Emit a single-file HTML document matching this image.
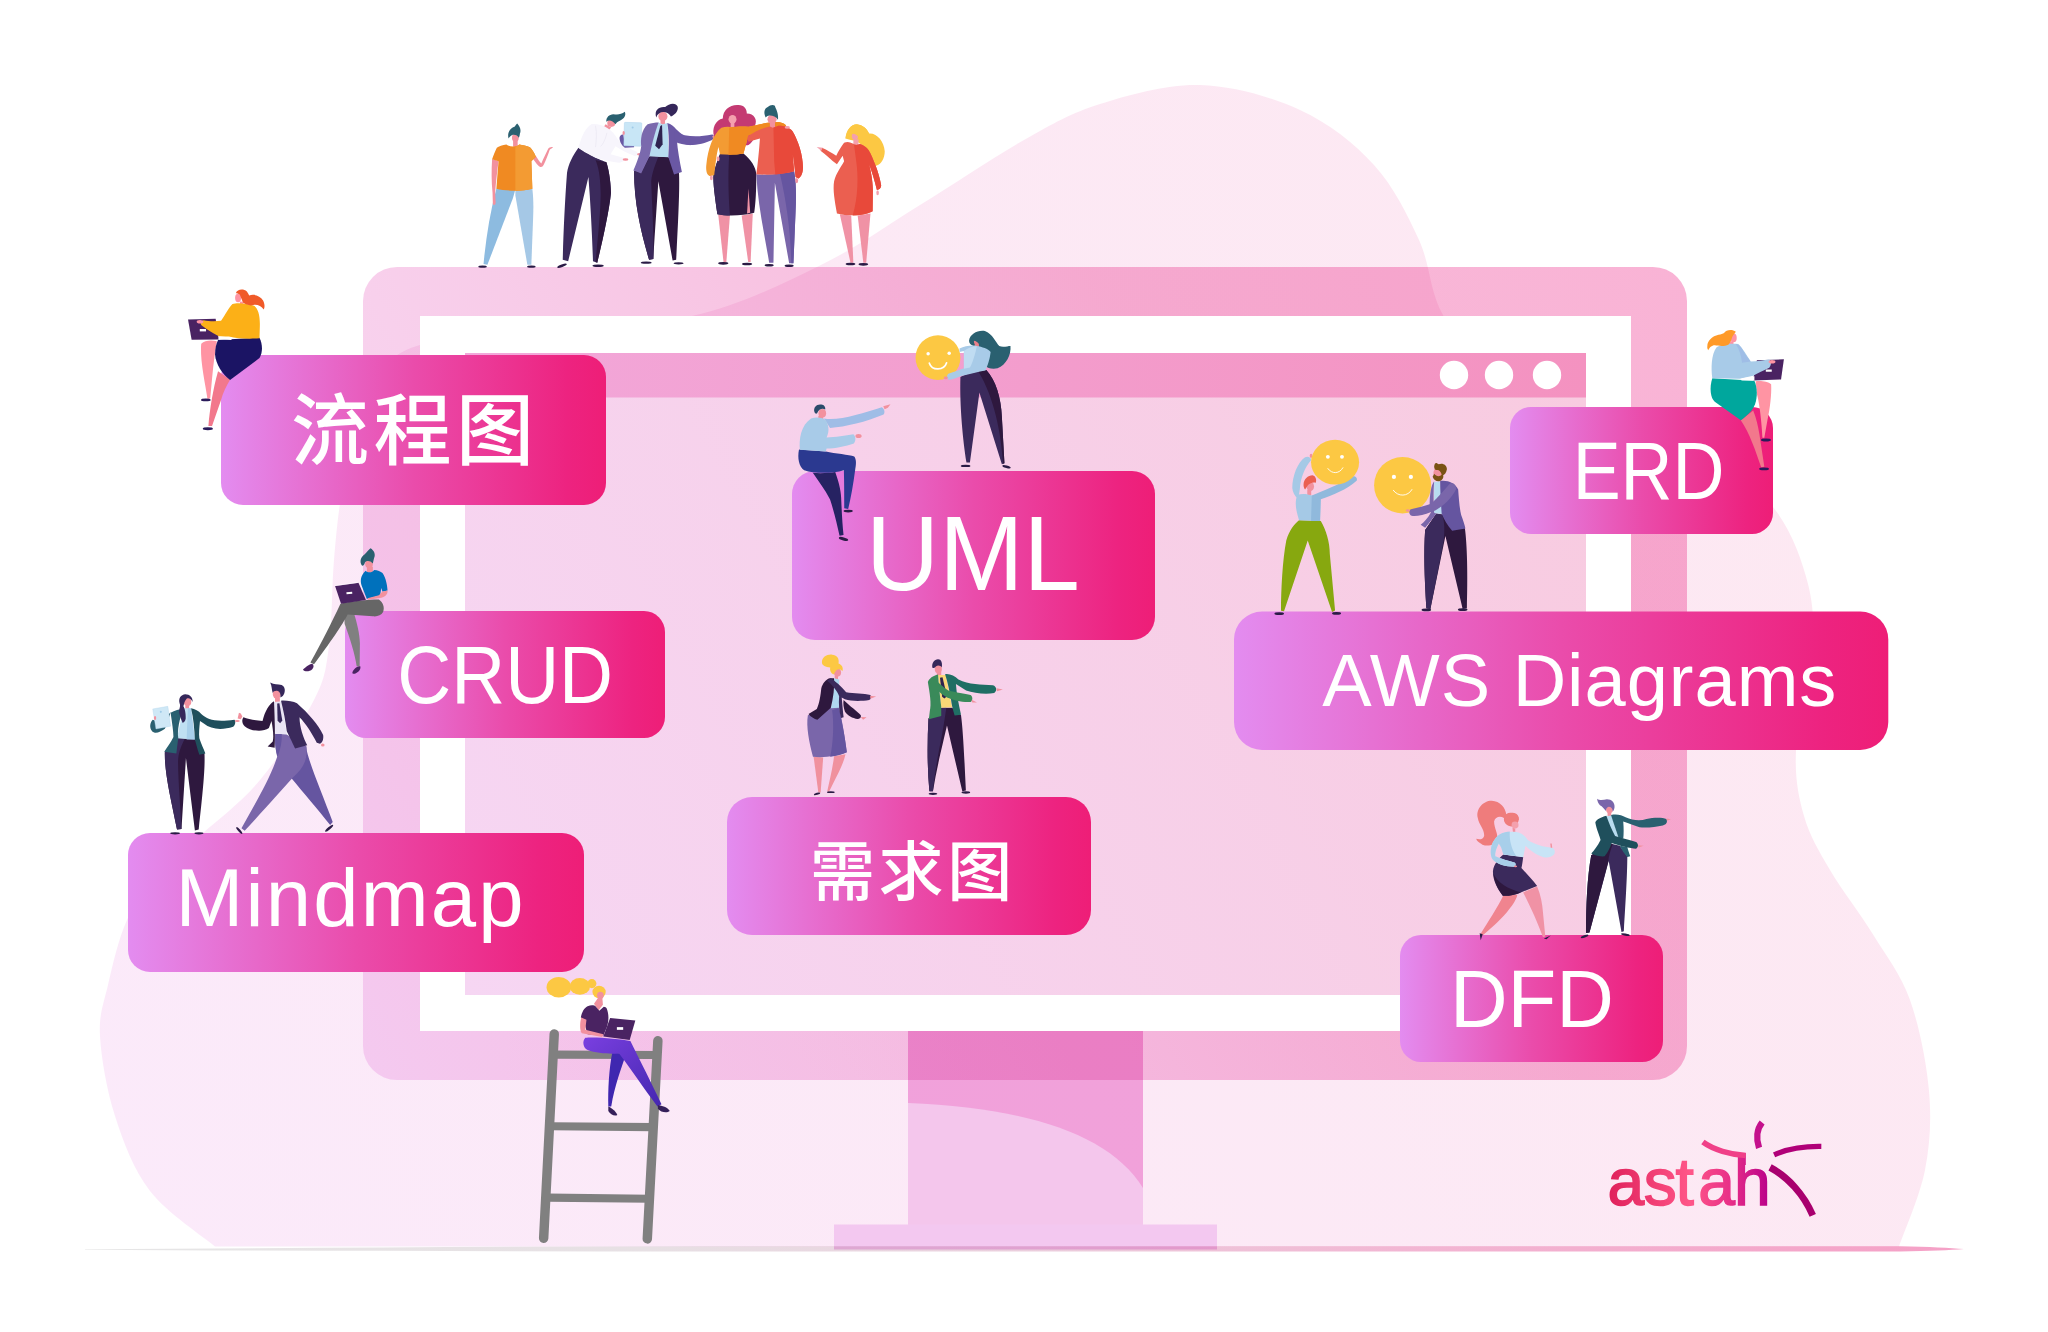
<!DOCTYPE html>
<html lang="zh"><head><meta charset="utf-8"><title>astah diagrams</title>
<style>
html,body{margin:0;padding:0;background:#fff;overflow:hidden}
svg{display:block}
text{font-family:"Liberation Sans","Noto Sans CJK SC",sans-serif;fill:#fff}
</style></head><body>
<svg width="2048" height="1332" viewBox="0 0 2048 1332">
<defs>
<linearGradient id="lg" x1="0" y1="0" x2="1" y2="0">
<stop offset="0" stop-color="#e38cf0"/><stop offset="0.5" stop-color="#ea4cab"/><stop offset="0.9" stop-color="#ed2380"/><stop offset="1" stop-color="#ee1e77"/>
</linearGradient>
<linearGradient id="fr" gradientUnits="userSpaceOnUse" x1="363" y1="1080" x2="1687" y2="267">
<stop offset="0" stop-color="#f8dcf6"/><stop offset="0.27" stop-color="#f8d0ec"/><stop offset="0.45" stop-color="#f8c6e4"/><stop offset="0.67" stop-color="#f8b9d9"/><stop offset="1" stop-color="#f9b3d5"/>
</linearGradient>
<linearGradient id="sc" gradientUnits="userSpaceOnUse" x1="465" y1="995" x2="1586" y2="397">
<stop offset="0" stop-color="#f6d6f3"/><stop offset="1" stop-color="#f8cbe0"/>
</linearGradient>
<linearGradient id="tb" gradientUnits="userSpaceOnUse" x1="465" y1="375" x2="1586" y2="375">
<stop offset="0" stop-color="#f2a8da"/><stop offset="1" stop-color="#f492c0"/>
</linearGradient>
<linearGradient id="gl" gradientUnits="userSpaceOnUse" x1="85" y1="0" x2="1965" y2="0">
<stop offset="0" stop-color="#e6e6e6"/><stop offset="0.3" stop-color="#e7e0e4"/><stop offset="0.5" stop-color="#ebcedd"/><stop offset="0.7" stop-color="#f2b6d3"/><stop offset="1" stop-color="#f5a0c6"/>
</linearGradient>
<linearGradient id="bl" gradientUnits="userSpaceOnUse" x1="100" y1="1200" x2="1900" y2="200">
<stop offset="0" stop-color="#fbeafa"/><stop offset="1" stop-color="#fde8f1"/>
</linearGradient>
</defs>
<rect width="2048" height="1332" fill="#fff"/>
<path d="M215.0,1246.5 C204.2,1237.2 166.7,1212.8 150.0,1191.0 C133.3,1169.2 123.3,1141.8 115.0,1116.0 C106.7,1090.2 101.2,1057.8 100.0,1036.0 C98.8,1014.2 103.5,1004.3 108.0,985.0 C112.5,965.7 118.3,939.2 127.0,920.0 C135.7,900.8 147.3,884.5 160.0,870.0 C172.7,855.5 186.3,848.0 203.0,833.0 C219.7,818.0 241.5,802.2 260.0,780.0 C278.5,757.8 302.5,722.3 314.0,700.0 C325.5,677.7 325.7,669.3 329.0,646.0 C332.3,622.7 331.8,586.0 334.0,560.0 C336.2,534.0 338.0,515.0 342.0,490.0 C346.0,465.0 352.2,429.2 358.0,410.0 C363.8,390.8 366.7,385.8 377.0,375.0 C387.3,364.2 392.8,352.8 420.0,345.0 C447.2,337.2 494.7,332.8 540.0,328.0 C585.3,323.2 645.5,326.3 692.0,316.0 C738.5,305.7 781.0,284.5 819.0,266.0 C857.0,247.5 885.8,226.0 920.0,205.0 C954.2,184.0 994.0,156.8 1024.0,140.0 C1054.0,123.2 1070.7,113.2 1100.0,104.0 C1129.3,94.8 1166.7,84.0 1200.0,85.0 C1233.3,86.0 1271.0,96.7 1300.0,110.0 C1329.0,123.3 1354.2,143.3 1374.0,165.0 C1393.8,186.7 1407.5,215.0 1419.0,240.0 C1430.5,265.0 1429.5,291.7 1443.0,315.0 C1456.5,338.3 1470.5,362.5 1500.0,380.0 C1529.5,397.5 1586.7,408.3 1620.0,420.0 C1653.3,431.7 1674.5,435.5 1700.0,450.0 C1725.5,464.5 1755.0,484.7 1773.0,507.0 C1791.0,529.3 1801.5,558.5 1808.0,584.0 C1814.5,609.5 1814.0,632.2 1812.0,660.0 C1810.0,687.8 1797.3,725.0 1796.0,751.0 C1794.7,777.0 1798.3,796.2 1804.0,816.0 C1809.7,835.8 1818.3,850.0 1830.0,870.0 C1841.7,890.0 1860.7,914.3 1874.0,936.0 C1887.3,957.7 1900.8,974.2 1910.0,1000.0 C1919.2,1025.8 1926.5,1062.7 1929.0,1091.0 C1931.5,1119.3 1930.0,1144.1 1925.0,1170.0 C1920.0,1195.9 1903.3,1233.8 1899.0,1246.5Z" fill="url(#bl)"/>
<g style="mix-blend-mode:multiply">
<rect x="363" y="267" width="1324" height="813" rx="34" fill="url(#fr)"/>
</g>
<g style="mix-blend-mode:multiply">
<rect x="908" y="1031" width="235" height="194" fill="#f4b0e2"/>
</g>
<path d="M908,1103 C1030,1108 1110,1135 1143,1188 L1143,1225 L908,1225Z" fill="#f4c6ec"/>
<rect x="834" y="1224.5" width="383" height="25" fill="#f3c8f0"/>
<rect x="420" y="316" width="1211" height="715" fill="#fff"/>
<rect x="465" y="353" width="1121" height="642" fill="url(#sc)"/>
<rect x="465" y="353" width="1121" height="44.5" fill="url(#tb)"/>
<circle cx="1454" cy="375" r="14.2" fill="#fff"/><circle cx="1499" cy="375" r="14.2" fill="#fff"/><circle cx="1547" cy="375" r="14.2" fill="#fff"/>
<path d="M85,1249.4 C300,1248 500,1246.3 700,1246.2 L1900,1246.2 C1930,1246.5 1950,1248 1964,1249 C1950,1250 1930,1251.3 1900,1251.4 L700,1251.5 C500,1251.3 300,1250.6 85,1249.9Z" fill="url(#gl)" style="mix-blend-mode:multiply"/>
<rect x="221" y="355" width="385" height="150" rx="22" fill="url(#lg)"/>
<rect x="345" y="611" width="320" height="127" rx="21" fill="url(#lg)"/>
<rect x="128" y="833" width="456" height="139" rx="22" fill="url(#lg)"/>
<rect x="792" y="471" width="363" height="169" rx="23" fill="url(#lg)"/>
<rect x="727" y="797" width="364" height="138" rx="25" fill="url(#lg)"/>
<rect x="1510" y="407" width="263" height="127" rx="21" fill="url(#lg)"/>
<rect x="1234" y="611.5" width="654.3" height="138.5" rx="28" fill="url(#lg)"/>
<rect x="1400" y="935" width="263" height="127" rx="21" fill="url(#lg)"/>

<text x="291.00" y="459" font-size="78" letter-spacing="4.55" font-weight="500">流程图</text>
<text transform="translate(397.33,0) scale(0.9185,1)" x="0" y="702.6" font-size="81.3" >CRUD</text>
<text x="175.60" y="926.1" font-size="81.5" letter-spacing="2.12" >Mindmap</text>
<text transform="translate(866.10,0) scale(0.9656,1)" x="0" y="589.8" font-size="104.8" >UML</text>
<text x="810.00" y="895" font-size="65" letter-spacing="3.60" font-weight="500">需求图</text>
<text transform="translate(1572.66,0) scale(0.8789,1)" x="0" y="499.3" font-size="81.8" >ERD</text>
<text x="1322.20" y="705.9" font-size="74.1" letter-spacing="0.96" >AWS Diagrams</text>
<text transform="translate(1449.92,0) scale(0.9832,1)" x="0" y="1026.9" font-size="81.2" >DFD</text>

<g transform="translate(470,90) scale(0.14268)">
<path d="M185,690 L318,698 L300,760 L122,1225 L95,1220 C110,1050 140,860 185,690Z" fill="#8dbbe0"/>
<path d="M318,698 L437,690 C445,760 445,820 443,880 L430,1225 L402,1225 L318,740Z" fill="#a5c8e6"/>
<ellipse cx="88" cy="1238" rx="30" ry="8" fill="#2a1b45"/><ellipse cx="430" cy="1238" rx="30" ry="8" fill="#2a1b45"/>
<path d="M155,483 L200,498 C192,560 182,640 176,720 L180,790 C178,808 165,812 160,795 L158,720 C150,640 150,560 155,483Z" fill="#f2919e"/>
<path d="M440,478 L462,462 C475,485 490,505 500,515 C515,480 535,440 548,412 C555,400 575,395 582,402 C575,410 562,415 558,420 C545,460 525,510 510,535 C500,545 485,540 478,530 C465,515 450,495 440,478Z" fill="#f2919e"/>
<rect x="302" y="350" width="32" height="48" fill="#f2919e"/>
<path d="M255,382 C230,385 200,395 188,405 C175,430 162,465 155,485 L200,500 C195,560 190,630 185,692 C260,710 370,710 437,692 C435,620 432,560 430,500 L462,467 C450,440 435,415 420,402 C395,390 370,385 345,382 C330,400 275,400 255,382Z" fill="#f08a22"/>
<path d="M318,396 C330,394 340,388 345,382 C370,385 395,390 420,402 C435,415 450,440 462,467 L430,500 C432,560 435,620 437,692 C400,702 360,706 318,706Z" fill="#f39b33"/>
<ellipse cx="318" cy="335" rx="24" ry="28" fill="#f2919e"/>
<path d="M270,340 C260,300 280,268 312,258 C320,245 326,238 331,234 C350,255 360,280 350,305 C349,318 346,328 342,335 C335,318 320,312 300,314 C290,316 280,325 270,340Z" fill="#2a6070"/>
<path d="M760,405 C720,460 690,520 680,580 C665,780 655,1000 650,1190 L688,1200 L830,610 C845,800 855,1000 862,1200 L892,1210 C930,1050 975,850 988,720 C985,620 970,550 955,505 C920,495 800,440 760,405Z" fill="#3b2a5c"/>
<path d="M880,490 C920,500 945,505 955,505 C970,550 985,620 988,720 C975,850 930,1050 892,1210 L880,1205 C900,1000 920,800 915,700 C912,600 900,540 880,490Z" fill="#2e183e"/>
<ellipse cx="645" cy="1232" rx="35" ry="9" fill="#2a1b45" transform="rotate(-20 645 1232)"/><ellipse cx="898" cy="1232" rx="40" ry="9" fill="#2a1b45"/>
<path d="M950,240 L990,262 L968,285 L935,262Z" fill="#f2919e"/>
<path d="M850,240 C880,235 930,245 965,268 C1000,290 1020,320 1035,345 C1070,380 1130,420 1170,432 L1180,455 L1155,462 C1110,450 1060,420 1020,395 L985,450 L1075,475 L1075,500 L1050,510 C1000,505 930,490 880,475 L760,405 C775,350 800,270 850,240Z" fill="#f7f5fc"/>
<path d="M880,250 C890,300 885,360 880,400 M960,300 C950,340 935,380 915,395" fill="none" stroke="#e6e2f0" stroke-width="4"/>
<ellipse cx="1195" cy="450" rx="24" ry="9" fill="#f2919e"/><ellipse cx="1090" cy="487" rx="20" ry="9" fill="#f2919e"/>
<ellipse cx="990" cy="232" rx="28" ry="27" fill="#f2919e"/>
<path d="M955,222 C955,190 975,172 1005,170 C1030,172 1060,175 1085,153 C1095,175 1085,200 1050,215 C1035,222 1025,230 1020,240 C1000,215 975,205 955,222Z" fill="#2a6070"/>
<path d="M1150,570 L1260,465 L1390,470 L1465,585 C1470,700 1460,900 1445,1190 L1420,1195 L1320,640 C1310,800 1295,1000 1285,1185 L1255,1190 C1200,1000 1150,800 1150,570Z" fill="#2e183e"/>
<path d="M1150,570 L1200,585 L1262,465 L1320,468 C1300,520 1275,580 1270,640 C1275,800 1290,1000 1285,1185 L1255,1190 C1200,1000 1150,800 1150,570Z" fill="#3b2a5c"/>
<ellipse cx="1235" cy="1210" rx="38" ry="8" fill="#2a1b45"/><ellipse cx="1462" cy="1215" rx="35" ry="8" fill="#2a1b45"/>
<path d="M1048,335 C1050,318 1062,308 1075,312 L1085,385 L1150,388 L1150,402 L1085,405 C1065,390 1048,365 1048,335Z" fill="#6a58a4"/>
<rect x="1080" y="228" width="122" height="165" rx="6" fill="#c8e6f6" stroke="#a5cfea" stroke-width="3" transform="rotate(1.5 1140 310)"/>
<circle cx="1140" cy="262" r="7" fill="#a0cbe8"/>
<ellipse cx="1077" cy="302" rx="8" ry="14" fill="#f2919e"/>
<rect x="1335" y="205" width="32" height="40" fill="#f2919e"/>
<path d="M1320,228 L1350,240 L1385,232 L1392,472 L1256,464 C1265,400 1290,300 1320,228Z" fill="#b8dcf0"/>
<path d="M1334,252 L1346,245 L1350,380 L1325,415 L1298,390 Z" fill="#2e2350"/>
<path d="M1245,240 C1270,232 1300,228 1322,228 C1295,300 1270,400 1258,466 L1200,585 L1145,565 C1170,510 1195,440 1200,395 C1195,350 1200,280 1245,240Z" fill="#7a69ad"/>
<path d="M1383,232 C1410,240 1430,255 1445,275 C1480,310 1510,330 1545,338 L1545,388 C1510,382 1475,368 1450,350 C1455,420 1470,500 1485,575 L1430,592 L1390,470 C1395,400 1395,300 1383,232Z" fill="#6a58a4"/>
<ellipse cx="1352" cy="185" rx="32" ry="33" fill="#f2919e"/>
<path d="M1305,192 C1290,140 1325,115 1368,120 C1395,92 1445,85 1456,118 C1462,150 1432,178 1408,186 C1400,170 1385,158 1368,156 C1340,150 1315,165 1305,192Z" fill="#35275a"/>
</g>

<g transform="translate(680,90) scale(0.14268)">
<path d="M-40,285 C40,335 130,330 225,312 C242,315 242,340 225,350 C150,385 40,405 -40,360Z" fill="#6a58a4"/>
<ellipse cx="248" cy="328" rx="22" ry="9" fill="#f2919e"/>
<path d="M240,330 C220,270 250,210 300,200 C300,140 350,100 410,105 C450,105 470,135 468,165 C520,165 545,210 525,250 C540,300 520,360 480,385 C450,395 330,380 300,360 C280,365 250,355 240,330Z" fill="#c43a72"/>
<path d="M268,875 L350,880 L325,1205 L305,1205Z" fill="#f092a5"/><path d="M432,880 L510,865 L495,1205 L478,1205Z" fill="#f092a5"/>
<ellipse cx="303" cy="1215" rx="36" ry="9" fill="#2a1b45"/><ellipse cx="470" cy="1220" rx="36" ry="9" fill="#2a1b45"/>
<path d="M280,450 L445,445 C500,490 530,540 535,590 C535,700 530,800 520,860 C450,880 330,885 262,870 C245,750 230,650 235,590 C245,540 265,490 280,450Z" fill="#2e183e"/>
<path d="M280,450 L345,450 C335,600 340,750 350,880 C320,880 290,876 262,870 C245,750 230,650 235,590 C245,540 265,490 280,450Z" fill="#3b2a5c"/>
<path d="M480,690 L492,860 L470,866Z" fill="#f092a5"/>
<rect x="355" y="228" width="26" height="40" fill="#f4a0ad"/>
<ellipse cx="368" cy="205" rx="28" ry="30" fill="#f4a0ad"/>
<path d="M290,265 C320,255 350,258 370,262 C400,256 440,255 480,258 C540,245 610,225 680,225 C720,225 750,245 745,262 C700,262 600,290 480,318 L445,445 C390,455 330,455 280,450 L270,400 C255,450 250,520 240,595 L215,605 C185,600 180,560 185,520 C195,420 230,310 290,265Z" fill="#f39b33"/>
<path d="M345,262 C400,256 440,255 480,258 C540,245 610,225 680,225 C720,225 750,245 745,262 C700,262 600,290 480,318 L445,445 C410,452 375,454 340,453 Z" fill="#f08a22"/>
<ellipse cx="220" cy="615" rx="10" ry="18" fill="#f4a0ad"/><ellipse cx="267" cy="482" rx="10" ry="18" fill="#f4a0ad"/>
<path d="M535,590 C620,595 720,590 800,570 C815,650 815,750 810,850 L795,1215 L765,1215 L665,650 L655,1210 L625,1210 C590,1000 545,800 535,590Z" fill="#7a66aa"/>
<path d="M700,585 C740,582 775,576 800,570 C815,650 815,750 810,850 L795,1215 L780,1215 C775,1000 750,800 700,585Z" fill="#6555a0"/>
<ellipse cx="625" cy="1228" rx="32" ry="9" fill="#2a1b45"/><ellipse cx="765" cy="1232" rx="32" ry="9" fill="#2a1b45"/>
<rect x="630" y="230" width="36" height="36" fill="#f2919e"/>
<path d="M480,320 C530,290 580,265 630,255 L650,265 L690,250 C730,250 770,262 790,290 C830,360 860,450 862,540 C862,580 850,610 830,620 L810,610 C805,560 800,500 790,450 L800,570 C720,592 620,598 535,590 C545,520 555,420 560,340 L480,362 C470,345 470,330 480,320Z" fill="#eb5f50"/>
<path d="M655,264 L690,250 C730,250 770,262 790,290 C830,360 860,450 862,540 C862,580 850,610 830,620 L810,610 C805,560 800,500 790,450 L800,570 C760,582 710,590 668,592 L660,500 Z" fill="#e8493a"/>
<ellipse cx="818" cy="635" rx="10" ry="18" fill="#f2919e"/>
<ellipse cx="752" cy="262" rx="18" ry="9" fill="#f4a0ad"/>
<ellipse cx="645" cy="205" rx="32" ry="33" fill="#f2919e"/>
<path d="M600,192 C585,160 590,130 615,120 C630,105 650,100 665,110 C670,130 692,160 687,208 C672,185 640,175 620,180 C610,182 605,188 600,192Z" fill="#2a6070"/>
<path d="M1160,340 C1165,280 1200,240 1240,240 C1280,245 1310,270 1325,305 C1380,300 1430,360 1435,430 C1435,480 1410,520 1380,530 C1350,535 1310,525 1300,500 L1290,400 C1270,380 1250,370 1235,360 C1215,350 1180,350 1160,340Z" fill="#fcc843"/>
<path d="M1120,870 L1200,880 L1215,1210 L1195,1210Z" fill="#f092a5"/><path d="M1245,880 L1335,865 L1305,1210 L1285,1210Z" fill="#f092a5"/>
<ellipse cx="1195" cy="1220" rx="34" ry="9" fill="#2a1b45"/><ellipse cx="1285" cy="1222" rx="34" ry="9" fill="#2a1b45"/>
<rect x="1215" y="345" width="36" height="40" fill="#f4a0ad"/>
<ellipse cx="1226" cy="325" rx="22" ry="25" fill="#f4a0ad"/>
<path d="M1150,370 C1170,360 1190,362 1210,375 C1225,385 1245,385 1260,378 C1290,385 1320,410 1335,445 C1370,520 1400,600 1410,670 C1410,690 1395,700 1380,700 C1365,640 1345,570 1325,520 C1335,560 1350,620 1352,700 L1350,850 C1290,885 1180,885 1100,865 C1085,780 1070,700 1080,640 C1095,580 1130,540 1150,500 L1140,460 L1100,520 C1060,490 1020,450 985,425 L995,405 C1030,420 1070,445 1095,460 C1110,430 1130,395 1150,370Z" fill="#eb5f50"/>
<path d="M1220,385 C1235,387 1250,383 1260,378 C1290,385 1320,410 1335,445 C1370,520 1400,600 1410,670 C1410,690 1395,700 1380,700 C1365,640 1345,570 1325,520 C1335,560 1350,620 1352,700 L1350,850 C1310,872 1260,880 1210,880 C1250,750 1250,600 1235,500Z" fill="#e8493a"/>
<path d="M958,400 L1000,404 L990,426 Z" fill="#f4a0ad"/><ellipse cx="1385" cy="720" rx="9" ry="18" fill="#f4a0ad"/>
<path d="M1160,340 C1165,280 1200,240 1240,240 C1280,245 1310,270 1325,305 C1340,330 1330,360 1300,380 C1280,370 1260,350 1250,330 C1240,310 1215,300 1200,310 C1190,325 1175,335 1160,340Z" fill="#fcc843"/>
</g>

<g transform="translate(170,280) scale(0.12012)">
<path d="M260,530 C290,500 350,500 390,510 L370,640 C355,750 345,880 335,985 L312,990 C295,870 255,700 258,560Z" fill="#ff94a3"/>
<ellipse cx="298" cy="998" rx="40" ry="12" fill="#2a1b5a"/>
<path d="M400,760 L500,830 C470,880 440,940 425,1000 L350,1215 L320,1215 C330,1080 360,900 400,760Z" fill="#f2788c"/>
<ellipse cx="315" cy="1238" rx="42" ry="12" fill="#2a1b5a"/>
<path d="M400,500 L745,480 C770,530 775,600 745,650 L500,832 C440,790 380,700 375,620 C375,570 385,530 400,500Z" fill="#1b1464"/>
<path d="M150,328 L380,322 L405,495 L180,498Z" fill="#4a2362"/>
<rect x="248" y="408" width="52" height="20" fill="#fff"/>
<rect x="582" y="180" width="30" height="35" fill="#ff94a3"/>
<path d="M520,200 C560,185 640,195 700,215 C735,240 750,300 748,380 L745,485 C650,492 560,487 490,470 L410,470 C350,440 290,400 260,375 C250,360 262,338 280,335 C320,345 380,345 425,340 C460,290 490,230 520,200Z" fill="#fcb017"/>
<path d="M410,468 L518,480 L510,500 L405,492Z" fill="#fff"/>
<ellipse cx="250" cy="348" rx="28" ry="15" fill="#ff94a3"/>
<ellipse cx="567" cy="150" rx="25" ry="35" fill="#ff94a3"/>
<path d="M548,110 C560,75 610,70 640,95 C650,110 655,120 660,128 C700,115 750,130 775,170 C790,200 790,230 780,245 C760,215 720,200 690,210 C660,215 630,205 610,190 C600,170 590,140 580,120 C570,112 558,112 548,110Z" fill="#f05a28"/>
</g>

<g transform="translate(290,540) scale(0.12012)">
<path d="M450,600 L530,600 C560,700 580,780 582,860 L580,1055 L555,1050 C540,950 500,820 455,700Z" fill="#808080"/>
<path d="M520,1100 C530,1075 560,1050 585,1052 C592,1075 575,1100 545,1112 C530,1118 515,1112 520,1100Z" fill="#4a2362"/>
<path d="M420,530 C500,510 650,495 740,495 C775,520 790,560 775,600 C760,630 720,640 690,635 L480,620 C440,700 330,860 200,1035 L170,1020 C260,860 350,680 420,530Z" fill="#666"/>
<path d="M108,1080 C125,1060 160,1035 185,1030 C200,1040 200,1060 185,1075 C165,1095 125,1100 108,1080Z" fill="#4a2362"/>
<rect x="640" y="222" width="50" height="48" fill="#f2919e"/>
<path d="M630,255 C645,275 685,275 700,250 C730,252 755,262 770,275 C800,320 810,380 812,420 L770,430 L760,400 L750,462 L640,492 L600,390 C585,350 580,300 630,255Z" fill="#0071bc"/>
<path d="M770,428 L812,420 C815,445 800,470 760,480 L650,497 L645,485 L740,460 Z" fill="#f2919e"/>
<path d="M375,382 L570,355 L632,500 L425,530Z" fill="#4a2362"/>
<path d="M375,380 L570,353" stroke="#fff" stroke-width="5" fill="none"/>
<rect x="470" y="432" width="48" height="18" fill="#fff" transform="rotate(-5 494 441)"/>
<ellipse cx="658" cy="200" rx="32" ry="33" fill="#f2919e"/>
<path d="M600,215 C575,180 590,140 620,120 C640,100 655,80 670,68 C700,85 715,120 700,150 C695,170 692,185 690,195 C670,172 640,168 625,185 C620,200 615,215 600,215Z" fill="#2a6070"/>
</g>

<g transform="translate(140,670) scale(0.12763)">
<path d="M195,640 L300,535 L430,540 L505,650 C510,750 500,900 460,1250 L430,1258 L360,690 L325,1245 L290,1250 C240,1000 190,800 195,640Z" fill="#2e183e"/>
<path d="M195,640 L300,535 L350,540 C320,600 300,650 298,720 C300,900 320,1100 325,1245 L290,1250 C240,1000 190,800 195,640Z" fill="#3b2a5c"/>
<ellipse cx="275" cy="1280" rx="38" ry="8" fill="#2a1b45"/><ellipse cx="462" cy="1280" rx="35" ry="8" fill="#2a1b45"/>
<path d="M240,330 C225,380 210,430 195,460 C160,485 120,505 95,480 C70,450 80,410 100,390 L125,400 C125,420 130,440 150,440 Z" fill="#2a6070"/>
<path d="M100,305 L218,285 L240,440 L125,462Z" fill="#cfe8f6" stroke="#b0d4ec" stroke-width="3"/>
<circle cx="163" cy="328" r="8" fill="#a0cbe8"/>
<ellipse cx="118" cy="376" rx="9" ry="15" fill="#f2919e"/>
<rect x="355" y="278" width="30" height="30" fill="#f2919e"/>
<path d="M340,300 L400,300 L430,545 L290,535 Z" fill="#c0e0f2"/>
<path d="M375,300 L400,300 L430,545 L365,545Z" fill="#a8cfea"/>
<path d="M340,305 C310,305 270,315 240,335 C252,420 262,480 262,525 C240,570 210,610 190,640 L285,655 C290,610 295,570 300,535 C290,470 310,380 340,305Z" fill="#2a6070"/>
<path d="M400,300 C430,305 460,320 480,345 C530,390 590,410 740,390 C750,400 750,430 730,445 C650,470 560,470 500,420 L470,400 C465,450 460,500 465,535 C480,580 500,620 512,655 L465,665 C450,620 440,580 430,545 C425,460 420,380 400,300Z" fill="#1f4f5c"/>
<ellipse cx="762" cy="400" rx="20" ry="8" fill="#f2919e"/>
<ellipse cx="372" cy="250" rx="30" ry="35" fill="#f2919e"/>
<path d="M310,260 C300,220 320,195 355,190 C390,190 415,215 412,250 C400,225 380,215 365,225 C350,240 345,265 340,285 C350,300 360,340 358,380 C355,400 345,410 335,415 C320,380 300,340 310,300 C315,285 315,270 310,260Z" fill="#35275a"/>
<path d="M1180,840 L1300,600 C1320,720 1420,950 1510,1190 L1490,1215 C1400,1100 1280,960 1180,840Z" fill="#6555a0"/>
<ellipse cx="1482" cy="1240" rx="40" ry="10" fill="#2a1b45" transform="rotate(-40 1482 1240)"/>
<path d="M1060,500 L1150,505 C1200,540 1290,580 1305,600 C1310,700 1290,760 1200,840 C1100,950 950,1120 820,1260 L795,1240 C900,1050 1020,850 1075,680 C1060,620 1055,560 1060,500Z" fill="#7a66aa"/>
<path d="M1060,500 L1110,502 C1115,560 1100,620 1078,680 C1060,620 1055,560 1060,500Z" fill="#6555a0"/>
<ellipse cx="778" cy="1258" rx="35" ry="9" fill="#2a1b45" transform="rotate(50 778 1258)"/>
<rect x="1058" y="215" width="38" height="38" fill="#f2919e"/>
<path d="M1050,250 L1110,245 L1150,502 L1060,502Z" fill="#e9e4f4"/>
<path d="M1075,262 L1092,260 L1115,395 L1098,418 L1078,398Z" fill="#35275a"/>
<path d="M1050,245 C1010,270 980,320 960,400 C900,395 850,385 810,370 C795,390 800,420 820,440 C870,480 960,490 1010,455 L1030,400 C1040,450 1050,520 1040,560 L1000,600 L1055,610 C1060,500 1055,350 1050,245Z" fill="#2e183e"/>
<path d="M1105,240 C1150,238 1200,245 1230,260 C1320,340 1400,430 1435,510 C1440,540 1430,570 1410,578 L1385,570 C1350,500 1300,420 1250,370 C1250,450 1280,530 1310,590 L1215,615 C1190,560 1160,500 1150,480 C1140,400 1125,320 1105,240Z" fill="#3b2a5c"/>
<ellipse cx="1432" cy="588" rx="14" ry="12" fill="#f2919e"/>
<path d="M775,335 L790,340 L802,365 L790,385 L765,380Z" fill="#f2919e"/>
<ellipse cx="1072" cy="188" rx="32" ry="38" fill="#f2919e"/>
<path d="M1040,180 C1030,150 1035,130 1020,98 C1050,115 1080,110 1110,118 C1135,130 1140,160 1130,185 C1125,200 1115,210 1100,215 C1105,190 1095,170 1080,165 C1060,160 1045,168 1040,180Z" fill="#35275a"/>
</g>

<defs><linearGradient id="lgleg" x1="0" y1="0" x2="1" y2="1"><stop offset="0" stop-color="#7a3fe0"/><stop offset="1" stop-color="#4427b0"/></linearGradient></defs>
<g transform="translate(520,960) scale(0.22528)">
<g stroke="#808080" stroke-linecap="round" fill="none">
<path d="M152,328 L105,1235" stroke-width="42"/><path d="M612,358 L565,1238" stroke-width="42"/>
<path d="M150,420 L610,422 M140,738 L590,742 M125,1055 L575,1060" stroke-width="36" stroke-linecap="butt"/>
</g>

<g transform="scale(0.5332) translate(83.25,41.63)">
<ellipse cx="240" cy="185" rx="102" ry="85" fill="#fcc843"/><ellipse cx="415" cy="178" rx="85" ry="70" fill="#fcc843"/><ellipse cx="515" cy="155" rx="38" ry="38" fill="#fcc843"/>
<ellipse cx="575" cy="225" rx="55" ry="52" fill="#fcc843"/>
<path d="M568,270 L602,270 L607,330 L570,378 L533,322 Z" fill="#f2919e"/>
<ellipse cx="586" cy="252" rx="28" ry="30" fill="#f2919e"/>
</g>
<path d="M300,205 C315,198 330,200 335,205 L352,225 L372,208 C378,208 382,212 385,215 C395,240 395,270 385,300 L370,335 L300,330 C290,300 285,260 270,255 C275,230 285,212 300,205Z" fill="#4a2362"/>
<path d="M272,255 L295,265 L290,310 L370,330 L365,342 L275,325 C265,315 265,280 272,255Z" fill="#f2919e"/>
<path d="M410,410 L470,420 C450,480 420,560 405,650 L392,650 C390,580 395,480 410,410Z" fill="#3f27b0"/>
<path d="M290,345 C330,340 450,350 490,360 C530,440 590,560 628,640 L610,650 C550,570 490,480 440,415 C400,418 340,415 300,400 C280,390 275,360 290,345Z" fill="url(#lgleg)"/>
<path d="M400,258 L512,268 L487,355 L370,340Z" fill="#4a2362"/>
<rect x="430" y="298" width="28" height="12" fill="#fff"/>
<path d="M392,650 C405,655 425,670 432,688 C420,695 400,685 392,670Z" fill="#35205a"/>
<path d="M612,645 C630,645 655,655 665,670 C650,682 625,675 612,660Z" fill="#35205a"/>
</g>

<g transform="translate(780,320) scale(0.17265)">
<path d="M255,570 C340,585 480,540 590,505 C605,515 610,535 600,548 C500,590 380,620 290,625 Z" fill="#9fbde6"/>
<path d="M598,500 L640,488 L625,508 L606,517Z" fill="#f2919e"/>
<path d="M190,885 C240,890 290,885 320,880 C345,950 355,1000 355,1050 C358,1120 362,1190 368,1245 L345,1250 C330,1180 310,1100 290,1040 C260,980 220,930 190,885Z" fill="#262262"/>
<ellipse cx="368" cy="1268" rx="28" ry="9" fill="#2a1b45" transform="rotate(15 368 1268)"/>
<path d="M110,750 L265,762 C320,775 400,780 430,790 C445,810 440,840 435,870 C425,950 410,1030 395,1095 L372,1090 C372,1010 372,940 370,870 C300,890 200,890 140,870 C110,850 100,800 110,750Z" fill="#2b3990"/>
<ellipse cx="395" cy="1107" rx="27" ry="8" fill="#2a1b45"/>
<rect x="222" y="555" width="28" height="26" fill="#f2919e"/>
<path d="M180,570 C210,560 245,565 262,578 C280,600 290,640 270,680 C320,680 380,670 425,662 C440,675 440,700 428,715 C380,730 320,745 270,745 L265,762 L115,752 C110,690 120,610 180,570Z" fill="#a8cbe8"/>
<ellipse cx="455" cy="672" rx="18" ry="12" fill="#f2919e"/>
<ellipse cx="245" cy="540" rx="22" ry="25" fill="#f2919e"/>
<path d="M200,535 C190,505 215,485 240,490 C255,492 265,505 262,518 C245,510 225,515 215,540 C210,545 203,542 200,535Z" fill="#2a4a6a"/>
<path d="M1095,120 C1100,80 1150,55 1190,65 C1230,80 1250,130 1270,150 C1290,160 1320,150 1335,150 C1340,200 1310,260 1260,280 C1230,285 1200,280 1190,265 L1180,180 C1160,170 1140,170 1120,150 C1105,145 1095,135 1095,120Z" fill="#2a6070"/>
<path d="M1045,330 C1080,310 1150,295 1195,290 C1250,350 1280,450 1285,560 L1300,830 L1285,835 L1155,420 L1100,825 L1080,825 C1060,700 1040,500 1045,330Z" fill="#3b2a5c"/>
<path d="M1150,300 C1165,297 1180,293 1195,290 C1250,350 1280,450 1285,560 L1300,830 L1292,832 C1280,650 1240,450 1150,300Z" fill="#2e183e"/>
<ellipse cx="1075" cy="845" rx="28" ry="7" fill="#2a1b45"/><ellipse cx="1312" cy="850" rx="25" ry="7" fill="#2a1b45" transform="rotate(15 1312 850)"/>
<circle cx="915" cy="218" r="130" fill="#fcc843"/>
<circle cx="858" cy="195" r="10" fill="#fff"/><circle cx="980" cy="193" r="10" fill="#fff"/>
<path d="M865,250 C880,295 950,295 965,248" stroke="#fff" stroke-width="10" fill="none" stroke-linecap="round"/>
<rect x="1128" y="135" width="24" height="25" fill="#e8808a"/>
<ellipse cx="1138" cy="122" rx="15" ry="22" fill="#e8808a"/>
<path d="M1040,165 C1070,150 1110,145 1140,150 C1170,155 1205,165 1220,185 C1215,230 1200,270 1190,292 C1150,300 1100,310 1050,325 C1010,340 985,350 975,345 C965,335 965,320 975,312 C1010,300 1040,290 1065,280 L1065,180 L1040,185Z" fill="#a8cbe8"/>
<path d="M1065,180 C1090,160 1120,150 1140,152 C1130,200 1115,250 1100,275 L1065,282Z" fill="#c0dcf2"/>
<ellipse cx="960" cy="335" rx="12" ry="8" fill="#f2919e"/>
<path d="M1115,120 C1115,95 1140,85 1160,95 C1170,110 1165,135 1160,150 C1150,130 1135,118 1115,120Z" fill="#2a6070"/>
</g>

<g transform="translate(790,640) scale(0.12763)">
<path d="M185,915 L260,920 L240,1195 L222,1195Z" fill="#f0919e"/>
<path d="M345,910 L435,895 C420,960 390,1020 360,1080 L305,1190 L292,1185 C310,1100 335,1000 345,910Z" fill="#f0919e"/>
<ellipse cx="212" cy="1205" rx="26" ry="8" fill="#2a1b45" transform="rotate(-15 212 1205)"/><ellipse cx="320" cy="1192" rx="30" ry="7" fill="#2a1b45"/>
<path d="M140,590 L320,528 L385,522 C400,600 430,750 445,880 C380,910 260,925 180,915 C150,800 125,680 140,590Z" fill="#7a66aa"/>
<path d="M330,550 L380,535 C400,600 430,750 445,880 C410,897 365,908 315,915 C340,800 345,650 330,550Z" fill="#6555a0"/>
<rect x="350" y="278" width="26" height="30" fill="#f2919e"/>
<path d="M345,300 L385,310 L385,530 L320,535 C335,450 345,380 345,300Z" fill="#b0d8f0"/>
<path d="M310,300 C280,310 255,340 245,380 C240,430 230,500 210,540 L145,580 C160,600 190,620 215,625 L320,530 C340,450 350,370 345,300Z" fill="#2e183e"/>
<path d="M320,300 C350,320 400,360 440,410 C500,420 580,420 630,430 C640,445 635,465 620,470 C560,480 480,480 430,465 L405,450 C410,500 415,560 420,605 L400,612 C385,560 380,500 385,440 C370,400 330,350 290,320Z" fill="#3b2a5c"/>
<path d="M420,470 C470,520 530,560 555,590 C560,610 545,620 530,618 C490,615 450,590 430,560 C420,530 415,500 420,470Z" fill="#2e183e"/>
<path d="M628,437 L675,442 L630,460Z" fill="#f2919e"/><path d="M553,603 L600,605 L573,624Z" fill="#f2919e"/>
<ellipse cx="372" cy="255" rx="28" ry="32" fill="#f2919e"/>
<path d="M250,175 C250,135 290,110 330,115 C365,115 390,145 380,185 C410,195 420,225 410,245 C395,225 375,225 360,240 C350,255 345,265 340,270 C320,260 310,235 315,215 C280,215 250,200 250,175Z" fill="#fcc843"/>
<path d="M1085,615 L1190,530 L1270,530 L1340,590 C1355,700 1365,900 1378,1180 L1350,1185 L1230,670 C1200,800 1150,1000 1120,1185 L1092,1185 C1075,1000 1075,800 1085,615Z" fill="#2e183e"/>
<path d="M1085,615 L1190,530 L1225,530 C1215,600 1200,700 1180,800 C1150,950 1130,1080 1120,1185 L1092,1185 C1075,1000 1075,800 1085,615Z" fill="#3b2a5c"/>
<ellipse cx="1120" cy="1205" rx="34" ry="9" fill="#2a1b45"/><ellipse cx="1378" cy="1195" rx="34" ry="9" fill="#2a1b45"/>
<rect x="1150" y="250" width="35" height="32" fill="#f2919e"/>
<path d="M1160,275 L1220,275 L1270,527 L1185,530Z" fill="#f9d877"/>
<path d="M1175,295 L1195,292 L1230,440 L1210,458 L1192,445Z" fill="#2e2350"/>
<path d="M1160,270 C1120,280 1090,300 1080,330 C1095,420 1110,500 1095,560 L1088,620 L1185,595 L1185,525 C1175,440 1165,350 1160,270Z" fill="#3a8a5a"/>
<path d="M1215,268 C1250,262 1290,280 1320,310 C1400,350 1500,350 1590,355 C1620,365 1625,400 1600,415 C1530,430 1440,415 1380,395 L1300,345 C1305,420 1320,500 1340,585 L1290,592 C1275,540 1265,500 1262,470 C1250,400 1235,330 1215,268Z" fill="#1f6e64"/>
<path d="M1120,300 C1160,330 1200,370 1240,395 C1300,410 1370,420 1415,430 C1435,445 1432,475 1415,485 C1350,490 1280,470 1230,450 C1180,420 1140,380 1100,340Z" fill="#3a8a5a"/>
<path d="M1618,378 L1668,388 L1622,402Z" fill="#f2919e"/><path d="M1423,468 L1465,490 L1428,490Z" fill="#f2919e"/>
<ellipse cx="1162" cy="228" rx="28" ry="33" fill="#f2919e"/>
<path d="M1115,215 C1110,180 1130,150 1160,150 C1185,150 1195,175 1190,215 C1180,200 1160,195 1145,205 C1135,215 1125,225 1115,215Z" fill="#35275a"/>
</g>

<g transform="translate(1260,425) scale(0.15013)">
<path d="M260,635 L405,640 C440,700 465,780 465,860 L500,1235 L480,1245 L318,770 L160,1240 L140,1238 C140,1100 150,900 175,770 C195,700 230,660 260,635Z" fill="#87a80f"/>
<ellipse cx="128" cy="1257" rx="32" ry="9" fill="#2a1b45"/><ellipse cx="510" cy="1255" rx="30" ry="9" fill="#2a1b45"/>
<path d="M215,420 C215,340 250,250 300,215 C320,205 340,215 340,235 C300,280 270,350 265,430 C262,460 255,480 250,490 C230,470 218,450 215,420Z" fill="#a5c9e6"/>
<ellipse cx="340" cy="205" rx="9" ry="14" fill="#f2919e"/>
<rect x="315" y="432" width="26" height="36" fill="#f2919e"/>
<path d="M250,465 C280,455 320,460 345,470 L405,480 L400,640 L260,635 C245,580 225,520 250,465Z" fill="#a5c9e6"/>
<path d="M345,470 L405,480 L400,640 L340,640Z" fill="#90b9dc"/>
<path d="M345,470 C420,440 520,400 610,345 C630,335 650,350 645,370 C580,430 480,470 405,495Z" fill="#90b9dc"/>
<ellipse cx="335" cy="410" rx="25" ry="30" fill="#f2919e"/>
<path d="M290,400 C290,360 320,335 350,335 C372,340 378,365 372,385 C355,378 335,385 320,400 C310,415 305,425 300,430 C293,420 290,410 290,400Z" fill="#eb5f50"/>
<ellipse cx="500" cy="248" rx="160" ry="149" fill="#fcc843"/>
<circle cx="452" cy="212" r="13" fill="#fff"/><circle cx="546" cy="212" r="13" fill="#fff"/>
<path d="M452,290 C480,330 530,325 552,285" stroke="#fff" stroke-width="6" fill="none" stroke-linecap="round"/>
<path d="M1100,700 L1175,590 L1230,600 L1365,690 C1380,800 1385,1000 1378,1220 L1350,1225 L1235,740 L1135,1225 L1108,1220 C1095,1000 1090,850 1100,700Z" fill="#2e183e"/>
<path d="M1100,700 L1175,590 L1215,598 C1230,650 1230,700 1225,760 C1200,900 1160,1100 1135,1225 L1108,1220 C1095,1000 1090,850 1100,700Z" fill="#3b2a5c"/>
<ellipse cx="1108" cy="1232" rx="32" ry="9" fill="#2a1b45"/><ellipse cx="1350" cy="1230" rx="32" ry="9" fill="#2a1b45"/>
<ellipse cx="950" cy="401" rx="190" ry="188" fill="#fcc843"/>
<circle cx="892" cy="346" r="14" fill="#fff"/><circle cx="1005" cy="346" r="14" fill="#fff"/>
<path d="M888,435 C920,480 985,478 1012,430" stroke="#fff" stroke-width="6" fill="none" stroke-linecap="round"/>
<path d="M1160,380 L1200,375 L1215,592 L1160,587 Z" fill="#b8dcf0"/>
<path d="M1200,372 C1250,365 1300,385 1320,430 C1325,500 1330,560 1340,600 C1355,640 1365,670 1368,690 L1280,705 C1250,670 1225,630 1210,590 C1205,520 1200,440 1200,372Z" fill="#6555a0"/>
<path d="M1160,375 C1140,400 1130,460 1130,540 L1140,580 C1120,620 1090,650 1070,665 L1100,685 C1130,650 1160,610 1175,590 L1160,585 C1155,520 1155,440 1160,375Z" fill="#7a66aa"/>
<path d="M1265,390 C1290,380 1310,400 1305,430 C1270,500 1200,560 1140,580 C1090,600 1040,610 1010,605 C990,595 990,570 1005,562 C1050,550 1100,540 1140,525 C1190,480 1230,430 1265,390Z" fill="#7a66aa"/>
<ellipse cx="985" cy="570" rx="14" ry="8" fill="#f2919e"/>
<ellipse cx="1185" cy="320" rx="30" ry="35" fill="#f2919e"/>
<path d="M1160,275 C1165,245 1175,250 1190,262 C1215,250 1245,265 1245,295 C1240,320 1230,330 1220,335 C1225,350 1215,370 1195,375 C1175,378 1155,365 1150,345 L1160,325 C1175,345 1200,345 1210,330 C1205,310 1190,295 1175,300 C1165,300 1160,290 1160,275Z" fill="#7a5214"/>
</g>

<g transform="translate(1690,315) scale(0.12387)">
<path d="M530,535 C570,530 630,535 655,560 C660,640 645,760 625,850 L600,990 L585,990 C580,880 560,700 540,640Z" fill="#ff94a3"/>
<ellipse cx="613" cy="1010" rx="40" ry="12" fill="#2a1b5a"/>
<path d="M410,850 L510,770 C535,830 550,900 560,960 L600,1225 L575,1230 C530,1100 480,950 410,850Z" fill="#f2788c"/>
<ellipse cx="598" cy="1243" rx="40" ry="11" fill="#2a1b5a"/>
<path d="M180,510 L520,530 C545,590 545,660 525,720 C500,780 450,820 410,850 L200,700 C165,670 155,590 180,510Z" fill="#00a79d"/>
<path d="M540,365 L758,358 L735,520 L510,528 L515,490 Z" fill="#4a2362"/>
<rect x="612" y="440" width="48" height="18" fill="#fff"/>
<rect x="315" y="212" width="36" height="35" fill="#ff94a3"/>
<path d="M215,260 C250,235 340,225 390,235 C420,260 460,330 490,375 C540,375 600,365 640,360 C660,380 655,410 640,425 C590,450 540,470 510,490 L400,515 L180,510 C170,430 170,320 215,260Z" fill="#a8cbe8"/>
<path d="M370,235 C400,240 415,265 430,290 C445,320 470,350 490,375 L420,385 C415,340 400,280 370,235Z" fill="#9fbde6"/>
<path d="M415,512 L520,495 L520,528 L415,528Z" fill="#fff"/>
<ellipse cx="662" cy="378" rx="28" ry="14" fill="#ff94a3"/>
<ellipse cx="352" cy="185" rx="25" ry="35" fill="#ff94a3"/>
<path d="M140,250 C140,210 180,170 230,160 C250,155 265,150 275,145 C290,120 340,110 370,135 C360,150 345,165 340,180 C335,200 325,225 310,240 C280,255 230,250 200,245 C175,245 155,265 148,285 C140,275 138,262 140,250Z" fill="#ff9a28"/>
</g>

<g transform="translate(1465,790) scale(0.11635)">
<path d="M110,240 C90,160 160,90 230,92 C300,95 350,150 355,215 C370,200 410,190 440,205 C470,225 465,270 450,290 C430,310 400,320 380,310 C350,300 330,270 335,240 C300,220 260,230 250,270 C250,330 290,380 275,430 C260,470 200,490 150,470 C120,455 95,430 98,420 C130,430 160,420 165,390 C165,330 120,300 110,240Z" fill="#ef7c7c"/>
<path d="M330,905 L450,900 C440,950 400,1000 360,1050 C290,1130 210,1200 150,1250 L135,1235 C200,1130 280,1010 330,905Z" fill="#f0848f"/>
<path d="M500,880 L620,830 C650,900 665,980 670,1050 L690,1260 L670,1265 C630,1150 560,1000 500,880Z" fill="#f092a5"/>
<path d="M126,1232 L152,1240 L135,1292Z" fill="#2a1b45"/><path d="M678,1277 L737,1250 L700,1283Z" fill="#2a1b45"/>
<path d="M330,555 L500,575 C495,620 490,650 485,670 C530,720 580,770 620,825 L480,880 C430,905 370,910 325,908 C280,850 240,780 240,700 C245,640 290,590 330,555Z" fill="#3b2a5c"/>
<path d="M245,720 C280,800 370,850 480,880 C430,905 370,910 325,908 C285,855 250,790 245,720Z" fill="#2e183e"/>
<path d="M408,325 L432,330 L432,362 L412,362Z" fill="#f2919e"/>
<ellipse cx="430" cy="300" rx="30" ry="30" fill="#f4a0ad"/>
<path d="M300,380 C340,360 400,355 440,360 C490,365 520,400 540,430 C600,470 680,490 740,495 C770,500 780,530 765,555 C740,580 700,585 670,575 C610,560 560,520 520,480 L500,578 L330,555 C320,520 310,480 290,460 C270,500 255,540 260,570 C300,590 380,610 430,625 C440,640 435,655 420,660 C350,660 280,640 240,600 C215,570 215,500 240,450 C255,420 275,395 300,380Z" fill="#c8e4f6"/>
<path d="M300,380 C330,365 360,358 385,357 C380,420 395,500 440,568 L330,555 C320,520 310,480 290,460 C270,500 255,540 260,570 C300,590 380,610 430,625 C440,640 435,655 420,660 C350,660 280,640 240,600 C215,570 215,500 240,450 C255,420 275,395 300,380Z" fill="#a8cfea"/>
<path d="M733,460 L745,460 L750,497 L737,497Z" fill="#f2919e"/><ellipse cx="434" cy="656" rx="14" ry="8" fill="#f2919e"/>
<path d="M335,240 C330,210 370,192 410,195 C445,200 468,230 462,262 C440,245 410,245 390,262 C380,272 375,285 372,300 C350,290 335,265 335,240Z" fill="#ef7c7c"/>
<path d="M1085,560 L1250,460 L1330,480 L1395,570 C1395,700 1385,900 1365,1215 L1345,1220 L1235,610 L1070,1225 L1040,1230 C1040,1000 1050,750 1085,560Z" fill="#3b2a5c"/>
<path d="M1085,560 L1250,460 L1270,465 C1250,520 1235,570 1230,620 L1070,1225 L1040,1230 C1040,1000 1050,750 1085,560Z" fill="#2e183e"/>
<ellipse cx="1028" cy="1258" rx="35" ry="10" fill="#2a1b45" transform="rotate(-20 1028 1258)"/><ellipse cx="1378" cy="1243" rx="38" ry="9" fill="#2a1b45" transform="rotate(10 1378 1243)"/>
<rect x="1225" y="192" width="32" height="36" fill="#f2919e"/>
<path d="M1215,225 L1260,220 L1320,410 L1270,400Z" fill="#b8dcf0"/>
<path d="M1255,215 C1300,205 1350,215 1380,235 C1440,260 1500,270 1560,250 C1620,235 1700,235 1730,250 C1745,275 1730,300 1700,305 C1640,315 1560,330 1500,320 C1450,305 1400,280 1360,270 C1365,330 1365,380 1360,420 L1320,412 C1300,350 1275,280 1255,215Z" fill="#2a6070"/>
<path d="M1330,480 C1350,520 1370,550 1395,575 L1420,570 C1410,540 1400,510 1395,490 Z" fill="#2a6070"/>
<path d="M1215,222 C1170,235 1130,250 1120,280 C1130,340 1160,400 1165,430 C1140,480 1110,520 1085,545 C1120,565 1180,575 1200,570 C1230,530 1250,490 1260,455 C1330,480 1420,500 1470,505 C1495,490 1490,460 1470,448 C1420,430 1340,410 1290,395 C1260,340 1235,280 1215,222Z" fill="#1f4f5c"/>
<path d="M1733,245 L1770,252 L1736,264Z" fill="#f2919e"/><path d="M1488,475 L1535,480 L1493,494Z" fill="#f2919e"/>
<ellipse cx="1242" cy="165" rx="30" ry="35" fill="#f2919e"/>
<path d="M1135,75 C1160,95 1190,85 1220,80 C1260,80 1290,110 1285,150 C1282,170 1275,180 1270,185 C1270,160 1255,145 1235,145 C1220,148 1212,165 1210,180 C1195,160 1180,140 1160,130 C1145,115 1138,95 1135,75Z" fill="#7a66aa"/>
</g>

<defs>
<linearGradient id="lgo" gradientUnits="userSpaceOnUse" x1="1610" y1="0" x2="1770" y2="0">
<stop offset="0" stop-color="#e0225c"/><stop offset="0.5" stop-color="#ff5688"/><stop offset="0.75" stop-color="#e83088"/><stop offset="1" stop-color="#b8008a"/>
</linearGradient>
<linearGradient id="lgo2" gradientUnits="userSpaceOnUse" x1="1700" y1="0" x2="1750" y2="0">
<stop offset="0" stop-color="#f04088"/><stop offset="1" stop-color="#d81c8c"/>
</linearGradient>
</defs>
<text x="1607.6 1643.8 1675.5 1698.2 1734" y="1205" font-size="66" style="fill:url(#lgo);stroke:url(#lgo);stroke-width:1.5">astah</text>
<rect x="1738.2" y="1153" width="7.6" height="12" fill="url(#lgo)"/>
<g transform="translate(1590,1100) scale(0.12207)" fill="none">
<path d="M1275,455 C1150,447 1010,408 925,345" stroke="url(#lgo2)" stroke-width="46"/>
<path d="M1410,185 C1365,240 1360,320 1385,392" stroke="#c4108c" stroke-width="52"/>
<path d="M1508,450 C1620,398 1760,378 1895,380" stroke="#b00078" stroke-width="42"/>
<path d="M1475,552 C1620,630 1750,770 1825,945" stroke="#a8006e" stroke-width="56"/>
</g>


</svg></body></html>
